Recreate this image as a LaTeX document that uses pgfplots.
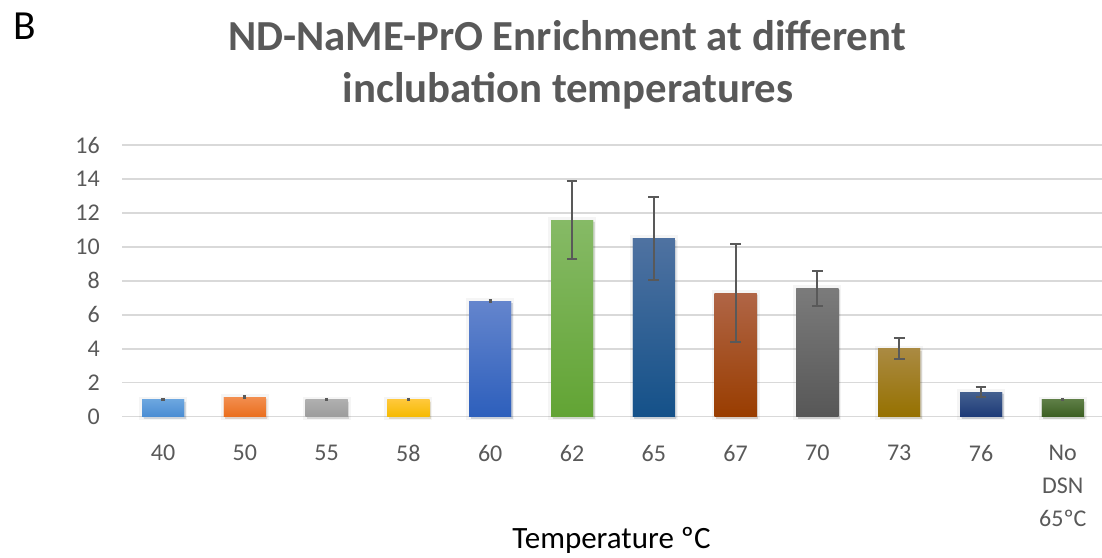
\documentclass[border=0pt]{standalone}
\usepackage{pgfplots}
\pgfplotsset{compat=1.18}
\usepackage{fontspec}
\setmainfont{Carlito}
\definecolor{txt}{HTML}{595959}
\definecolor{gridc}{HTML}{D9D9D9}
\definecolor{errc}{HTML}{595959}
\definecolor{t1}{HTML}{6CA6DF}\definecolor{b1}{HTML}{4A8CD3}
\definecolor{t2}{HTML}{F28E4F}\definecolor{b2}{HTML}{EA6E1D}
\definecolor{t3}{HTML}{AFAFAF}\definecolor{b3}{HTML}{9C9C9C}
\definecolor{t4}{HTML}{FFC83A}\definecolor{b4}{HTML}{F5BA00}
\definecolor{t5}{HTML}{6485CD}\definecolor{b5}{HTML}{2D5FBC}
\definecolor{t6}{HTML}{86BA66}\definecolor{b6}{HTML}{62A434}
\definecolor{t7}{HTML}{4F72A1}\definecolor{b7}{HTML}{145189}
\definecolor{t8}{HTML}{B06546}\definecolor{b8}{HTML}{993D00}
\definecolor{t9}{HTML}{7B7B7B}\definecolor{b9}{HTML}{575757}
\definecolor{t10}{HTML}{AA8A42}\definecolor{b10}{HTML}{967100}
\definecolor{t11}{HTML}{44608F}\definecolor{b11}{HTML}{1D3A78}
\definecolor{t12}{HTML}{5E7E46}\definecolor{b12}{HTML}{3B5F22}
\pgfplotsset{
  mybar/.style n args={3}{ybar, bar width=21pt, bar shift=0pt, draw=none,
    preaction={draw=black, draw opacity=0.04, line width=3pt},
    preaction={fill=black, fill opacity=0.10, transform canvas={xshift=0.8pt, yshift=-0.9pt}},
    top color=#1, bottom color=#2,
    error bars/.cd, y dir=both, y explicit,
    error bar style={color=errc, line width=1pt},
    error mark options={color=errc, line width=1pt, mark size=#3, rotate=90}}
}
\begin{document}
\begin{tikzpicture}
\useasboundingbox (0,0) rectangle (551pt,278.5pt);
\begin{axis}[
  at={(61.05pt,70.15pt)}, anchor=south west,
  scale only axis, width=490.8pt, height=135.85pt,
  xmin=-0.5, xmax=11.5, ymin=0, ymax=16,
  xtick={0,...,11},
  xticklabels={40,50,55,58,60,62,65,67,70,73,76,{No\\DSN\\65ºC}},
  ytick={0,2,...,16},
  /pgf/number format/assume math mode=true,
  ymajorgrids, grid style={gridc, line width=0.75pt},
  axis x line*=bottom, axis y line*=left,
  y axis line style={draw=none},
  x axis line style={gridc, line width=0.75pt},
  major tick length=0pt,
  tick label style={font=\fontsize{12}{16.5}\selectfont, text=txt, inner sep=0pt},
  yticklabel style={anchor=east, xshift=-11pt},
  xticklabel style={anchor=north, yshift=-13.9pt, align=center},
  clip=false,
]
\addplot[mybar={t1}{b1}{0.8pt}] coordinates {(0,1.0) +- (0,0.03)};
\addplot[mybar={t2}{b2}{0.8pt}] coordinates {(1,1.15) +- (0,0.05)};
\addplot[mybar={t3}{b3}{0.8pt}] coordinates {(2,1.0) +- (0,0.03)};
\addplot[mybar={t4}{b4}{0.8pt}] coordinates {(3,1.0) +- (0,0.03)};
\addplot[mybar={t5}{b5}{0.8pt}] coordinates {(4,6.8) +- (0,0.05)};
\addplot[mybar={t6}{b6}{2.7pt}] coordinates {(5,11.58) +- (0,2.3)};
\addplot[mybar={t7}{b7}{2.7pt}] coordinates {(6,10.5) +- (0,2.45)};
\addplot[mybar={t8}{b8}{2.7pt}] coordinates {(7,7.28) +- (0,2.9)};
\addplot[mybar={t9}{b9}{2.7pt}] coordinates {(8,7.57) +- (0,1.03)};
\addplot[mybar={t10}{b10}{2.7pt}] coordinates {(9,3.99) +- (0,0.62)};
\addplot[mybar={t11}{b11}{2.7pt}] coordinates {(10,1.45) +- (0,0.3)};
\addplot[mybar={t12}{b12}{0.8pt}] coordinates {(11,1.0) +- (0,0.03)};
\end{axis}
\node[anchor=base, font=\fontsize{21.4}{25}\selectfont\bfseries, text=txt, inner sep=0pt] at (283.5pt,253pt) {ND-NaME-PrO Enrichment at different};
\node[anchor=base, font=\fontsize{21.4}{25}\selectfont\bfseries, text=txt, inner sep=0pt] at (284pt,227.2pt) {inclubation temperatures};
\node[anchor=base west, font=\fontsize{20.7}{24}\selectfont, inner sep=0pt] at (6.5pt,258.5pt) {B};
\node[anchor=base, font=\fontsize{15.5}{18}\selectfont, inner sep=0pt] at (305.75pt,4.5pt) {Temperature ºC};
\end{tikzpicture}
\end{document}
